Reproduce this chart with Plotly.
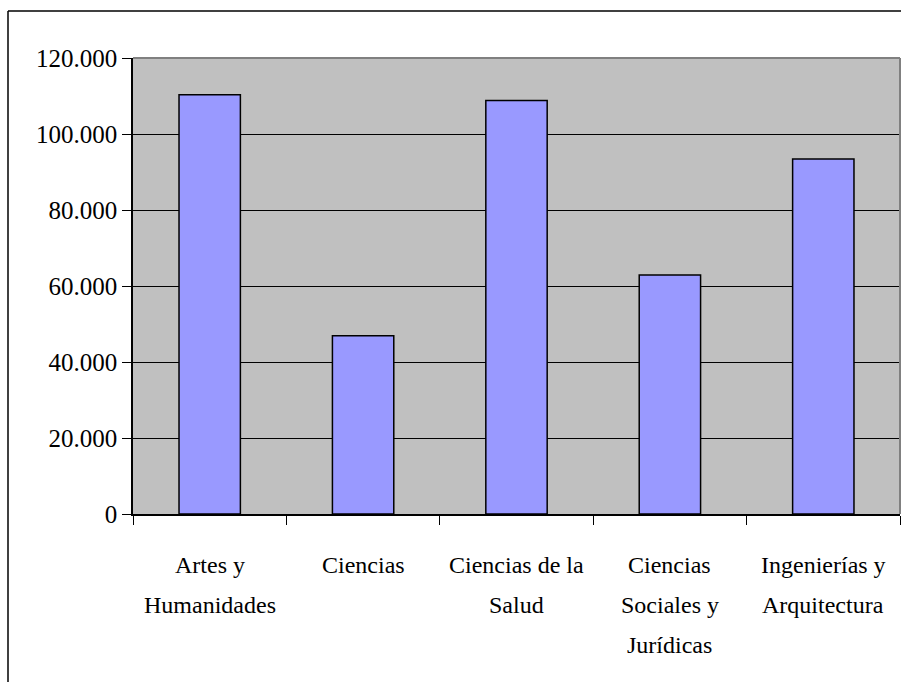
import plotly.graph_objects as go

categories = ["Artes y<br>Humanidades", "Ciencias", "Ciencias de la<br>Salud",
              "Ciencias<br>Sociales y<br>Jurídicas", "Ingenierías y<br>Arquitectura"]
values = [110300, 46900, 108800, 62900, 93400]
tick_vals = [0, 20000, 40000, 60000, 80000, 100000, 120000]

W, H = 901, 682
L, R, T, B = 133, 1, 58, 168
pw, ph = W - L - R, H - T - B
FONT = "Times New Roman, Liberation Serif, DejaVu Serif, serif"

fig = go.Figure(go.Bar(
    x=list(range(len(categories))), y=values,
    marker=dict(color="#9999FF", line=dict(color="black", width=1.5)),
    width=0.4,
))

# category labels as separate lines (wide line spacing)
ann = []
for i, c in enumerate(categories):
    for j, line in enumerate(c.split("<br>")):
        ann.append(dict(x=i, xref="x", y=-(51 + 40 * j) / ph, yref="paper",
                        text=line, showarrow=False, yanchor="middle",
                        font=dict(family=FONT, size=24, color="black")))

def px_x(p):
    return (p - L) / pw

def px_y(p):
    return (H - B - p) / ph

shapes = [
    # outer border (left and top)
    dict(type="line", xref="paper", yref="paper", x0=px_x(8), x1=px_x(8),
         y0=px_y(11), y1=px_y(700), line=dict(color="black", width=1.5)),
    dict(type="line", xref="paper", yref="paper", x0=px_x(8), x1=px_x(910),
         y0=px_y(11), y1=px_y(11), line=dict(color="black", width=1.5)),
    # plot area border top and right
    dict(type="line", xref="paper", yref="paper", x0=0, x1=1, y0=1, y1=1,
         line=dict(color="#808080", width=2)),
    dict(type="line", xref="paper", yref="paper", x0=1, x1=1, y0=0, y1=1,
         line=dict(color="#808080", width=2)),
]

fig.update_layout(
    width=W, height=H,
    margin=dict(l=L, r=R, t=T, b=B),
    paper_bgcolor="white", plot_bgcolor="#C0C0C0",
    separators=",.",
    showlegend=False,
    font=dict(family=FONT, size=24, color="black"),
    annotations=ann, shapes=shapes,
    xaxis=dict(range=[-0.5, len(categories) - 0.5], tickmode="array",
               tickvals=[i - 0.5 for i in range(len(categories) + 1)],
               ticktext=[""] * (len(categories) + 1),
               ticks="outside", ticklen=9, tickcolor="black", tickwidth=1,
               showline=True, linecolor="black", linewidth=1.5,
               showgrid=False, zeroline=False),
    yaxis=dict(range=[0, 120000], tickmode="array", tickvals=tick_vals,
               tickformat=",.0f", ticks="outside", ticklen=9, tickcolor="black",
               tickwidth=1, showline=True, linecolor="black", linewidth=1.5,
               showgrid=True, gridcolor="black", gridwidth=1, zeroline=False,
               tickfont=dict(family=FONT, size=25)),
)

fig.write_html("out.html", config={"displayModeBar": False},
               post_script="document.body.style.margin='0';document.body.style.padding='0';")
